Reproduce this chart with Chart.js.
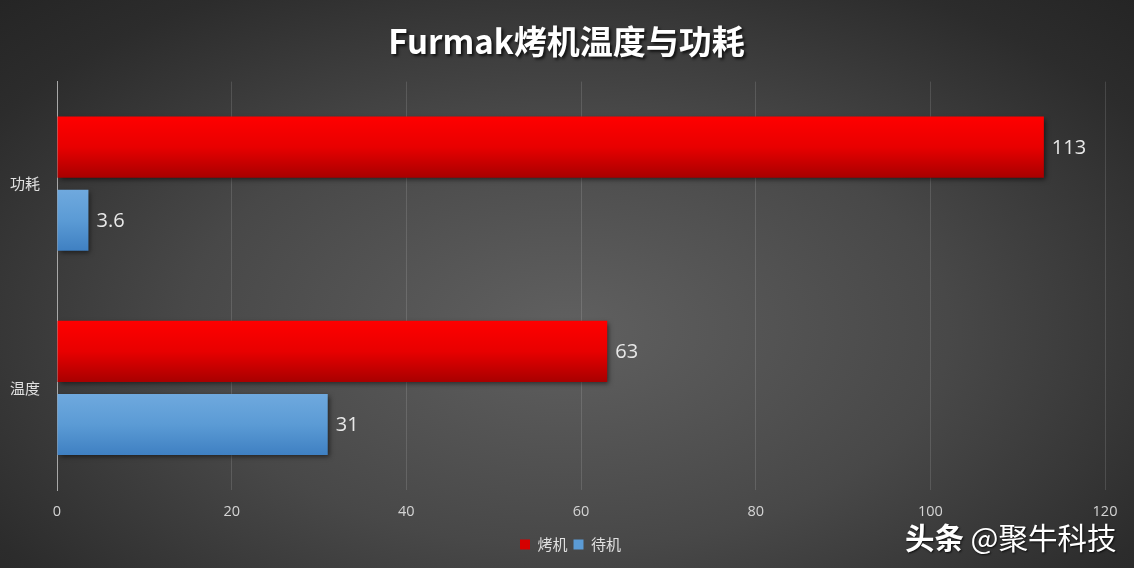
<!DOCTYPE html>
<html>
<head>
<meta charset="utf-8">
<script src="https://cdn.jsdelivr.net/npm/chart.js@4/dist/chart.umd.min.js"></script>
<style>
  html, body { margin: 0; padding: 0; }
  body { width: 1134px; height: 568px; overflow: hidden;
    background: radial-gradient(ellipse 75% 85% at 50% 58%, #606060 0%, #484848 45%, #2c2c2c 80%, #232323 100%); }
  #wrap { position: relative; width: 1134px; height: 568px; }
  #wm { position: absolute; left: 905px; top: 515px; color: #fff; font-family: "Noto Sans CJK SC", sans-serif;
    font-size: 29.5px; white-space: nowrap; text-shadow: 1px 1px 2px rgba(0,0,0,0.8); line-height: 42px; }
  #wm b { font-weight: 700; }
</style>
</head>
<body>
<div id="wrap">
  <canvas id="c" width="1134" height="568"></canvas>
  <div id="wm"><b>头条</b> @聚牛科技</div>
</div>
<script>
const categories = ['功耗', '温度'];
const seriesNames = ['烤机', '待机'];
const burnValues = [113, 63];
const idleValues = [3.6, 31];
const xTicks = [0, 20, 40, 60, 80, 100, 120];

const gradStops = [
  ['#ff0000', '#e80000', '#a80000'],
  ['#6fa9de', '#5b9bd5', '#3f80c2']
];
const legendColors = ['#d60000', '#5b9bd5'];

const decorPlugin = {
  id: 'decor',
  afterInit(chart) {
    const tb = chart.titleBlock;
    if (tb) {
      const orig = tb.draw.bind(tb);
      tb.draw = function () {
        const ctx = chart.ctx;
        ctx.save();
        ctx.shadowColor = 'rgba(0,0,0,0.75)';
        ctx.shadowBlur = 3;
        ctx.shadowOffsetX = 2;
        ctx.shadowOffsetY = 2;
        orig();
        ctx.restore();
      };
    }
  },
  afterLayout(chart) {
    const lg = chart.legend;
    if (lg) { lg.left += 13; lg.right += 13; }
    const tb = chart.titleBlock;
    if (tb) { tb.left += 9; tb.right += 9; }
  },
  afterDatasetsUpdate(chart) {
    const ctx = chart.ctx;
    chart.data.datasets.forEach((ds, di) => {
      const meta = chart.getDatasetMeta(di);
      meta.data.forEach(el => {
        const top = el.y - el.height / 2, bot = el.y + el.height / 2;
        const g = ctx.createLinearGradient(0, top, 0, bot);
        const s = gradStops[di];
        g.addColorStop(0, s[0]); g.addColorStop(0.5, s[1]); g.addColorStop(1, s[2]);
        el.options.backgroundColor = g;
      });
    });
  },
  beforeDatasetsDraw(chart) {
    const ctx = chart.ctx;
    ctx.save();
    ctx.shadowColor = 'rgba(0,0,0,0.55)';
    ctx.shadowBlur = 5;
    ctx.shadowOffsetX = 2;
    ctx.shadowOffsetY = 2;
  },
  afterDatasetsDraw(chart) {
    const ctx = chart.ctx;
    ctx.restore();
    ctx.save();
    ctx.font = '20px "Open Sans", "Noto Sans", sans-serif';
    ctx.fillStyle = '#e8e8e8';
    ctx.textAlign = 'left';
    ctx.textBaseline = 'middle';
    chart.data.datasets.forEach((ds, di) => {
      const meta = chart.getDatasetMeta(di);
      meta.data.forEach((el, i) => {
        ctx.fillText(String(ds.data[i]), el.x + 8, el.y + 1);
      });
    });
    ctx.restore();
  }
};

new Chart(document.getElementById('c'), {
  type: 'bar',
  data: {
    labels: categories,
    datasets: [
      { label: seriesNames[0], data: burnValues, backgroundColor: () => '#e00000' },
      { label: seriesNames[1], data: idleValues, backgroundColor: () => '#5b9bd5' }
    ]
  },
  options: {
    indexAxis: 'y',
    responsive: false,
    animation: false,
    devicePixelRatio: 1,
    categoryPercentage: 0.716,
    barPercentage: 0.836,
    layout: { padding: { left: 10, right: 29, top: 0, bottom: 6 } },
    scales: {
      x: {
        min: 0, max: 120,
        afterBuildTicks: (s) => { s.ticks = xTicks.map(v => ({ value: v })); },
        afterFit: (s) => { s.height = 41; },
        grid: {
          color: (c) => c.tick && c.tick.value === 0 ? '#a8a8a8' : 'rgba(255,255,255,0.13)',
          drawTicks: false
        },
        border: { display: false },
        ticks: { color: '#d4d4d4', font: { size: 14.5, family: '"Open Sans", "Noto Sans", sans-serif' }, padding: 13 }
      },
      y: {
        afterFit: (s) => { s.width = 47; },
        grid: { display: false },
        border: { color: '#a8a8a8' },
        ticks: { color: '#e0e0e0', crossAlign: 'far', padding: 8,
          font: { size: 15, family: '"Noto Sans CJK SC", sans-serif' } }
      }
    },
    plugins: {
      title: {
        display: true,
        text: 'Furmak烤机温度与功耗',
        color: '#ffffff',
        font: { size: 33, weight: 'bold', family: '"Noto Sans CJK SC", sans-serif' },
        padding: { top: 22, bottom: 20 }
      },
      legend: {
        position: 'bottom',
        labels: {
          color: '#e0e0e0',
          font: { size: 15, family: '"Noto Sans CJK SC", sans-serif' },
          usePointStyle: true, pointStyle: 'rect', boxWidth: 10, boxHeight: 10, padding: 6,
          generateLabels: (chart) => chart.data.datasets.map((ds, i) => ({
            text: ds.label, fillStyle: legendColors[i],
            strokeStyle: 'transparent', lineWidth: 0, pointStyle: 'rect', fontColor: '#e0e0e0', datasetIndex: i
          }))
        }
      },
      tooltip: { enabled: false }
    }
  },
  plugins: [decorPlugin]
});
</script>
</body>
</html>
